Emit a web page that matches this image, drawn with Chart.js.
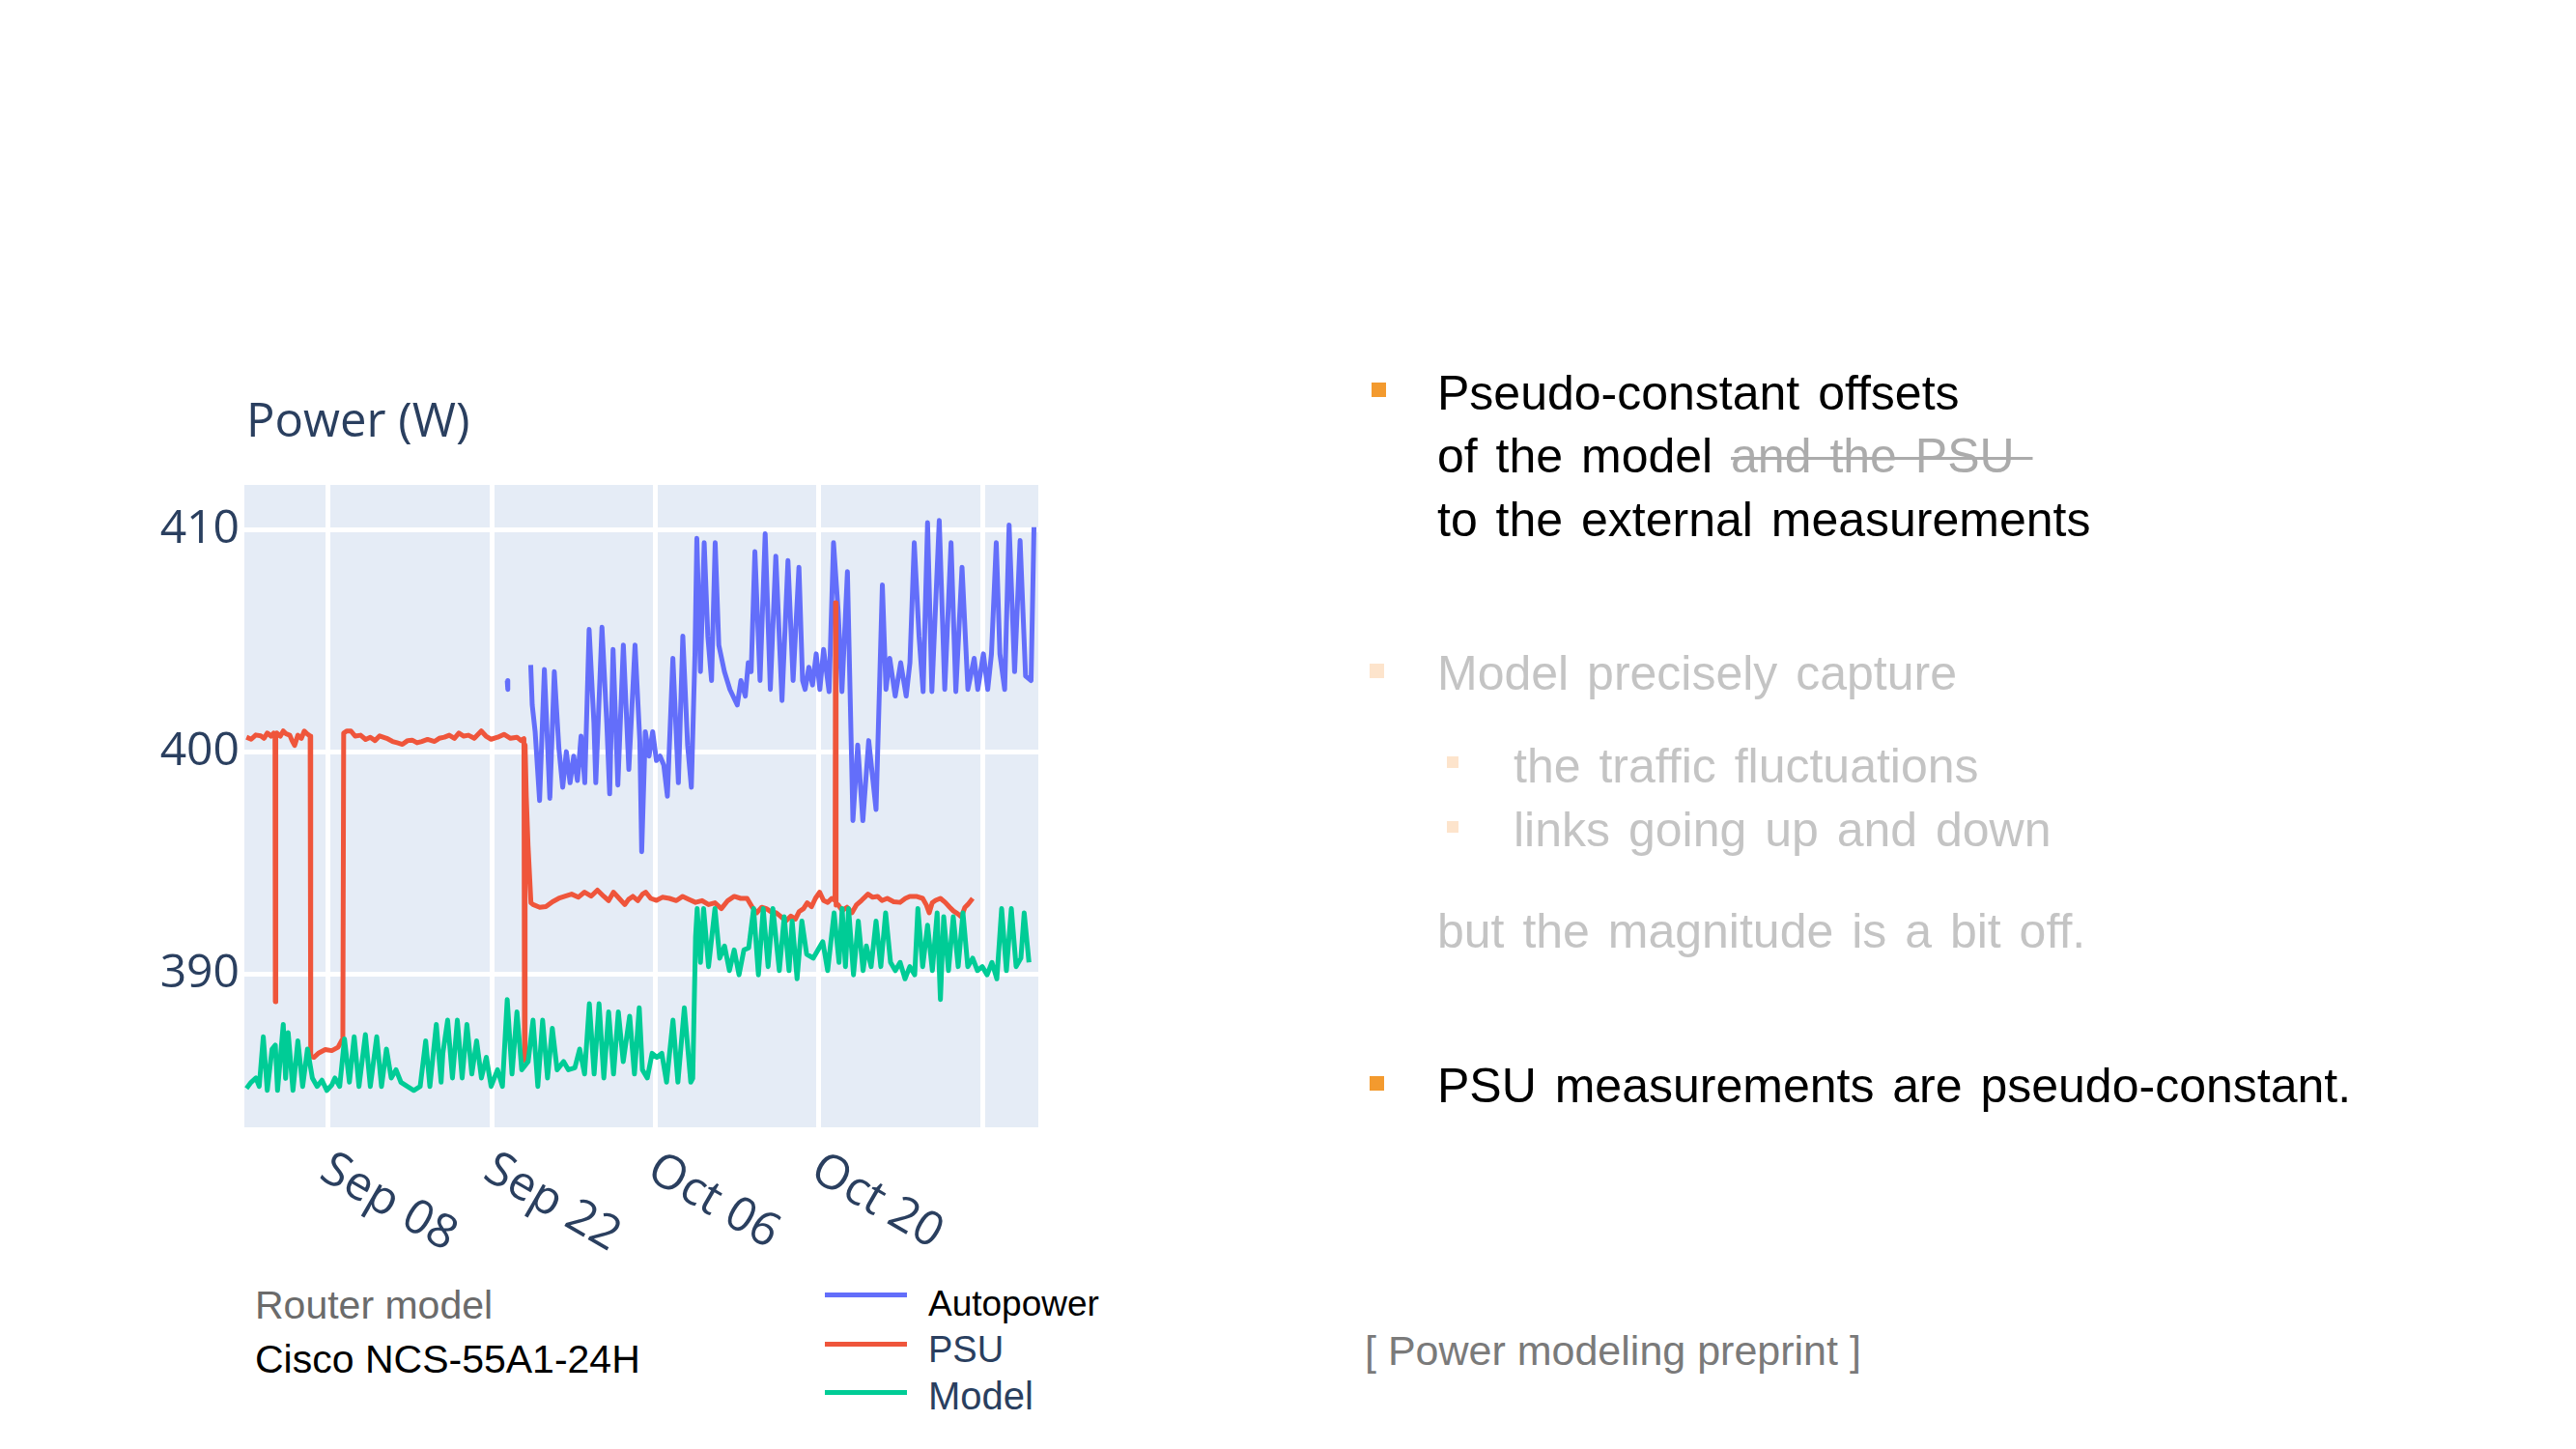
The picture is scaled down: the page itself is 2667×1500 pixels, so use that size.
<!DOCTYPE html>
<html>
<head>
<meta charset="utf-8">
<script src="https://cdn.jsdelivr.net/npm/chart.js@4.4.0/dist/chart.umd.min.js"></script>
<style>
  html, body { margin: 0; padding: 0; background: #fff; }
  body { width: 2667px; height: 1500px; position: relative; overflow: hidden; font-family: "Liberation Sans", Arial, sans-serif; }
  #plot { position: absolute; left: 0; top: 0; }
  .t { position: absolute; white-space: nowrap; line-height: 1; }
  .big { font-size: 50px; color: #000; word-spacing: 5px; }
  .fade { color: #c4c4c4; }
  .sq { position: absolute; width: 15px; height: 15px; background: #f39a2e; }
  .sq.fade { background: #fde4cc; }
  .sq.small { width: 12px; height: 12px; }
  .leg { position: absolute; left: 854px; width: 85px; height: 5px; }
</style>
</head>
<body>
<canvas id="plot" width="1200" height="1320"></canvas>

<!-- right side text -->
<div class="sq" style="left:1420px; top:396px;"></div>
<div class="t big" style="left:1488px; top:382px;">Pseudo-constant offsets</div>
<div class="t big" style="left:1488px; top:447px;">of the model <span style="color:#ababab; text-decoration:line-through; text-decoration-thickness:3px;">and the PSU&nbsp;</span></div>
<div class="t big" style="left:1488px; top:513px;">to the external measurements</div>

<div class="sq fade" style="left:1418px; top:687px;"></div>
<div class="t big fade" style="left:1488px; top:672px;">Model precisely capture</div>
<div class="sq fade small" style="left:1498px; top:783px;"></div>
<div class="t big fade" style="left:1567px; top:768px;">the traffic fluctuations</div>
<div class="sq fade small" style="left:1498px; top:850px;"></div>
<div class="t big fade" style="left:1567px; top:834px;">links going up and down</div>
<div class="t big fade" style="left:1488px; top:939px;">but the magnitude is a bit off.</div>

<div class="sq" style="left:1418px; top:1114px;"></div>
<div class="t big" style="left:1488px; top:1099px;">PSU measurements are pseudo-constant.</div>

<div class="t" style="left:1413px; top:1377px; font-size:43px; color:#7a7a7a;">[ Power modeling preprint ]</div>

<!-- left bottom -->
<div class="t" style="left:264px; top:1331px; font-size:41px; color:#6b6b6b;">Router model</div>
<div class="t" style="left:264px; top:1387px; font-size:41px; color:#000;">Cisco NCS-55A1-24H</div>

<div class="leg" style="top:1338px; background:#636efa;"></div>
<div class="leg" style="top:1389px; background:#ef553b;"></div>
<div class="leg" style="top:1439px; background:#00cc96;"></div>
<div class="t" style="left:961px; top:1331px; font-size:37px; color:#000;">Autopower</div>
<div class="t" style="left:961px; top:1378px; font-size:38px; color:#2a3f5f;">PSU</div>
<div class="t" style="left:961px; top:1425px; font-size:40px; color:#2a3f5f;">Model</div>

<script>
// x values are days since Sep 01
const tickDays = [7, 21, 35, 49, 63];
const tickLabels = ['Sep 08', 'Sep 22', 'Oct 06', 'Oct 20', ''];
const wattTicks = [390, 400, 410];

// PSU
const psuDays = [
  0.0, 0.4, 0.8, 1.22, 1.5, 1.78, 2.1, 2.33, 2.44, 2.47,
  2.51, 2.6, 2.9, 3.15, 3.4, 3.71, 3.9, 4.12, 4.4, 4.7,
  4.95, 5.2, 5.36, 5.45, 5.5, 5.77, 6.2, 6.74, 7.3, 7.84,
  8.25, 8.32, 8.6, 8.94, 9.3, 9.77, 10.2, 10.6, 11.0, 11.4,
  12.0, 12.5, 12.9, 13.35, 13.8, 14.18, 14.6, 15.0, 15.5, 16.1,
  16.5, 16.94, 17.36, 17.8, 18.18, 18.6, 19.0, 19.5, 20.1, 20.5,
  20.94, 21.5, 22.04, 22.6, 23.15, 23.5, 23.75, 23.8, 23.85, 23.95,
  24.1, 24.35, 24.53, 25.1, 25.63, 26.2, 26.73, 27.3, 27.83, 28.4,
  28.94, 29.5, 30.04, 30.59, 31.0, 31.42, 31.9, 32.38, 32.7, 33.07,
  33.5, 33.9, 34.17, 34.6, 35.1, 35.6, 36.2, 36.8, 37.34, 37.9,
  38.44, 39.0, 39.55, 40.1, 40.65, 41.2, 41.75, 42.3, 42.85, 43.3,
  43.68, 44.1, 44.5, 44.9, 45.34, 45.7, 46.16, 46.6, 46.99, 47.3,
  47.68, 48.0, 48.37, 48.7, 49.06, 49.4, 49.75, 50.1, 50.38, 50.42,
  50.47, 50.63, 50.99, 51.4, 51.82, 52.2, 52.65, 53.2, 53.6, 54.02,
  54.4, 54.85, 55.4, 55.95, 56.4, 56.78, 57.33, 57.88, 58.2, 58.44,
  58.7, 58.99, 59.4, 59.81, 60.2, 60.5, 60.9, 61.19, 61.5, 61.74,
  62.16
];
const psuWatts = [
  400.65, 400.56, 400.75, 400.71, 400.6, 400.84, 400.7, 400.84, 400.8, 388.75,
  400.75, 400.84, 400.7, 400.93, 400.8, 400.74, 400.5, 400.28, 400.74, 400.6,
  400.93, 400.8, 400.74, 400.7, 386.3, 386.25, 386.45, 386.6, 386.55, 386.7,
  387.1, 400.84, 400.93, 400.93, 400.7, 400.74, 400.55, 400.65, 400.5, 400.71,
  400.6, 400.46, 400.4, 400.33, 400.5, 400.52, 400.4, 400.46, 400.55, 400.46,
  400.6, 400.65, 400.74, 400.6, 400.84, 400.7, 400.74, 400.6, 400.93, 400.7,
  400.56, 400.65, 400.78, 400.6, 400.65, 400.5, 400.59, 386.1, 400.3, 398.0,
  395.8, 393.2, 393.12, 393.0, 393.03, 393.25, 393.4, 393.5, 393.59, 393.45,
  393.68, 393.5, 393.77, 393.49, 393.3, 393.68, 393.4, 393.12, 393.35, 393.49,
  393.3, 393.59, 393.68, 393.4, 393.31, 393.45, 393.4, 393.3, 393.49, 393.35,
  393.22, 393.3, 393.12, 393.2, 392.94, 393.3, 393.49, 393.4, 393.4, 393.0,
  392.75, 393.0, 392.94, 392.8, 392.75, 392.6, 392.38, 392.6, 392.47, 392.8,
  392.94, 393.2, 393.03, 393.4, 393.68, 393.3, 393.22, 393.4, 393.3, 406.7,
  393.1, 393.12, 392.85, 393.0, 392.75, 393.1, 393.31, 393.59, 393.45, 393.49,
  393.3, 393.4, 393.25, 393.22, 393.4, 393.49, 393.49, 393.4, 393.1, 392.75,
  393.2, 393.31, 393.4, 393.22, 393.0, 392.84, 392.7, 392.57, 393.0, 393.12,
  393.4
];

// Autopower (null = gap in the record)
const autoDays = [
  22.32, 22.37, 23.3, 24.33, 24.46, 24.71, 25.09, 25.50, 25.97, 26.35,
  26.75, 27.07, 27.38, 27.70, 28.01, 28.33, 28.64, 28.96, 29.33, 29.74,
  29.90, 30.43, 30.84, 31.09, 31.38, 31.79, 32.26, 32.73, 33.26, 33.67,
  33.83, 34.14, 34.46, 34.77, 35.09, 35.40, 35.72, 36.03, 36.50, 36.97,
  37.35, 37.76, 38.08, 38.39, 38.55, 38.86, 39.18, 39.49, 39.81, 40.12,
  40.43, 40.91, 41.38, 42.01, 42.32, 42.70, 42.95, 43.20, 43.52, 43.96,
  44.40, 44.84, 45.31, 45.84, 46.35, 46.79, 47.29, 47.60, 47.82, 48.14,
  48.45, 48.77, 49.08, 49.40, 49.87, 50.25, 50.65, 50.97, 51.44, 51.91,
  52.32, 52.76, 53.26, 53.89, 54.43, 54.74, 55.06, 55.53, 56.00, 56.47,
  56.79, 57.16, 57.57, 57.92, 58.30, 58.67, 59.30, 59.77, 60.31, 60.72,
  61.25, 61.75, 62.29, 62.60, 63.08, 63.45, 63.77, 64.18, 64.49, 64.90,
  65.28, 65.75, 66.22, 66.69, 67.16, 67.41
];
const autoWatts = [
  403.2, 402.8, null, 403.9, 402.1, 400.9, 397.8, 403.7, 397.9, 403.6,
  400.1, 398.4, 400.0, 398.6, 399.8, 398.7, 400.7, 398.6, 405.5, 401.3,
  398.6, 405.6, 401.3, 398.1, 404.6, 398.5, 404.8, 399.2, 404.8, 400.5,
  395.5, 400.9, 399.8, 400.9, 399.6, 399.8, 399.4, 398.0, 404.2, 398.6,
  405.2, 400.3, 398.4, 404.4, 409.6, 403.6, 409.4, 405.2, 403.2, 409.4,
  404.8, 403.6, 402.8, 402.1, 403.2, 402.5, 404.0, 403.6, 409.0, 403.2,
  409.8, 402.8, 408.8, 402.3, 408.6, 403.2, 408.3, 403.2, 402.8, 403.8,
  403.0, 404.4, 402.8, 404.6, 402.7, 409.4, 406.3, 402.7, 408.1, 396.9,
  400.3, 396.9, 400.5, 397.4, 407.5, 402.8, 404.2, 402.5, 404.0, 402.5,
  404.0, 409.4, 405.2, 402.7, 410.3, 402.7, 410.4, 402.8, 409.4, 402.7,
  408.3, 402.8, 404.2, 402.8, 404.4, 402.8, 404.4, 409.4, 404.4, 402.8,
  410.2, 403.6, 409.5, 403.4, 403.2, 410.1
];

// Model
const modelDays = [
  0.0, 0.4, 0.81, 1.09, 1.44, 1.78, 2.19, 2.47, 2.66, 3.15,
  3.35, 3.57, 3.98, 4.40, 4.81, 5.22, 5.64, 6.05, 6.46, 6.88,
  7.3, 7.57, 7.98, 8.39, 8.81, 9.22, 9.63, 10.18, 10.6, 11.15,
  11.56, 11.98, 12.39, 12.80, 13.22, 13.77, 14.32, 14.87, 15.34, 15.70,
  16.25, 16.66, 16.81, 17.22, 17.63, 18.05, 18.46, 18.87, 19.29, 19.70,
  20.11, 20.53, 20.94, 21.49, 21.91, 22.32, 22.73, 23.15, 23.56, 24.11,
  24.53, 24.94, 25.35, 25.77, 26.18, 26.59, 27.15, 27.56, 28.11, 28.52,
  28.94, 29.35, 29.76, 30.18, 30.59, 31.00, 31.42, 31.83, 32.25, 32.80,
  33.21, 33.62, 33.89, 34.31, 34.72, 35.13, 35.55, 35.96, 36.51, 36.93,
  37.48, 38.03, 38.2, 38.44, 38.58, 38.86, 39.13, 39.55, 40.1, 40.51,
  40.92, 41.34, 41.75, 42.16, 42.58, 42.99, 43.41, 43.82, 44.23, 44.65,
  45.06, 45.61, 46.03, 46.44, 46.71, 47.13, 47.54, 47.95, 48.51, 48.92,
  49.33, 49.75, 50.3, 50.72, 50.99, 51.27, 51.54, 51.96, 52.37, 52.78,
  53.06, 53.47, 53.89, 54.3, 54.71, 55.13, 55.54, 55.95, 56.37, 56.78,
  57.2, 57.47, 57.88, 58.3, 58.71, 59.12, 59.4, 59.68, 60.09, 60.5,
  60.92, 61.33, 61.74, 62.16, 62.57, 62.98, 63.4, 63.81, 64.23, 64.64,
  65.05, 65.47, 65.88, 66.29, 66.57, 66.98
];
const modelWatts = [
  384.85, 385.13, 385.32, 384.94, 387.17, 384.76, 386.62, 386.8, 384.76, 387.73,
  385.3, 387.36, 384.76, 386.99, 384.94, 386.62, 385.32, 384.94, 385.22, 384.76,
  385.0, 385.32, 384.94, 387.08, 385.13, 387.17, 384.94, 387.27, 384.94, 387.17,
  384.94, 386.62, 385.32, 385.69, 385.13, 384.94, 384.76, 384.94, 386.99, 384.94,
  387.73, 385.13, 386.43, 387.92, 385.32, 387.92, 385.32, 387.73, 385.5, 386.99,
  385.32, 386.25, 384.94, 385.69, 384.94, 388.85, 385.5, 388.29, 385.69, 386.06,
  387.92, 384.94, 387.92, 385.32, 387.55, 385.69, 386.06, 385.69, 385.78, 386.62,
  385.5, 388.66, 385.5, 388.66, 385.32, 388.29, 385.5, 388.29, 386.06, 388.1,
  385.5, 388.48, 385.69, 385.32, 386.43, 386.25, 386.43, 385.13, 387.92, 385.13,
  388.48, 385.13, 385.3, 391.64, 392.94, 390.52, 392.94, 390.33, 392.94, 390.71,
  391.26, 390.15, 391.08, 389.96, 391.08, 391.17, 392.94, 389.96, 392.94, 390.33,
  392.94, 390.15, 392.57, 390.15, 392.38, 389.78, 392.38, 390.89, 390.71, 391.08,
  391.45, 390.15, 392.75, 390.52, 392.94, 390.33, 392.94, 389.96, 392.38, 390.15,
  391.26, 390.33, 392.38, 390.33, 392.75, 390.52, 390.15, 390.52, 389.78, 390.33,
  389.96, 392.94, 390.33, 392.19, 390.15, 392.75, 388.85, 392.57, 390.15, 392.57,
  390.33, 392.75, 390.33, 390.71, 390.15, 390.33, 389.96, 390.52, 389.78, 392.94,
  390.15, 392.94, 390.33, 390.71, 392.75, 390.52
];

function pts(days, watts) {
  return days.map((d, i) => ({ x: d, y: watts[i] }));
}

// plot background + title + slanted date labels
const plotDecor = {
  id: 'plotDecor',
  beforeDraw(chart) {
    const a = chart.chartArea;
    const ctx = chart.ctx;
    ctx.save();
    ctx.fillStyle = '#e5ecf6';
    ctx.fillRect(a.left, a.top, a.right - a.left, a.bottom - a.top);
    ctx.restore();
  },
  afterDraw(chart) {
    const a = chart.chartArea;
    const ctx = chart.ctx;
    const xs = chart.scales.x;
    ctx.save();
    ctx.fillStyle = '#2a3f5f';
    ctx.font = '49px "Open Sans"';
    ctx.textAlign = 'left';
    ctx.textBaseline = 'alphabetic';
    ctx.fillText('Power (W)', a.left + 2, 452);
    ctx.textBaseline = 'middle';
    for (let i = 0; i < tickDays.length; i++) {
      if (!tickLabels[i]) continue;
      const px = xs.getPixelForValue(tickDays[i]);
      ctx.save();
      ctx.translate(px - 4, a.bottom + 40);
      ctx.rotate(Math.PI / 6);
      ctx.fillText(tickLabels[i], 0, 0);
      ctx.restore();
    }
    ctx.restore();
  }
};

new Chart(document.getElementById('plot'), {
  type: 'line',
  data: {
    datasets: [
      { label: 'Model', data: pts(modelDays, modelWatts), borderColor: '#00cc96', order: 0 },
      { label: 'PSU', data: pts(psuDays, psuWatts), borderColor: '#ef553b', order: 1 },
      { label: 'Autopower', data: pts(autoDays, autoWatts), borderColor: '#636efa', order: 2 }
    ]
  },
  options: {
    responsive: false,
    animation: false,
    spanGaps: false,
    elements: {
      line: { borderWidth: 5, tension: 0, borderJoinStyle: 'round' },
      point: { radius: 0 }
    },
    layout: { padding: { top: 502, right: 125, bottom: 0, left: 0 } },
    plugins: {
      legend: { display: false },
      tooltip: { enabled: false },
      title: { display: false }
    },
    scales: {
      x: {
        type: 'linear',
        min: -0.18,
        max: 67.78,
        afterBuildTicks: (scale) => { scale.ticks = tickDays.map(v => ({ value: v })); },
        afterFit: (scale) => { scale.height = 153; },
        ticks: { display: false },
        grid: { color: '#ffffff', lineWidth: 5, drawTicks: false },
        border: { display: false }
      },
      y: {
        min: 383.1,
        max: 412.0,
        afterBuildTicks: (scale) => { scale.ticks = wattTicks.map(v => ({ value: v })); },
        afterFit: (scale) => { scale.width = 253; },
        ticks: {
          padding: 5,
          color: '#2a3f5f',
          font: { family: 'Open Sans', size: 48 }
        },
        grid: { color: '#ffffff', lineWidth: 5, drawTicks: false },
        border: { display: false }
      }
    }
  },
  plugins: [plotDecor]
});
</script>
</body>
</html>
